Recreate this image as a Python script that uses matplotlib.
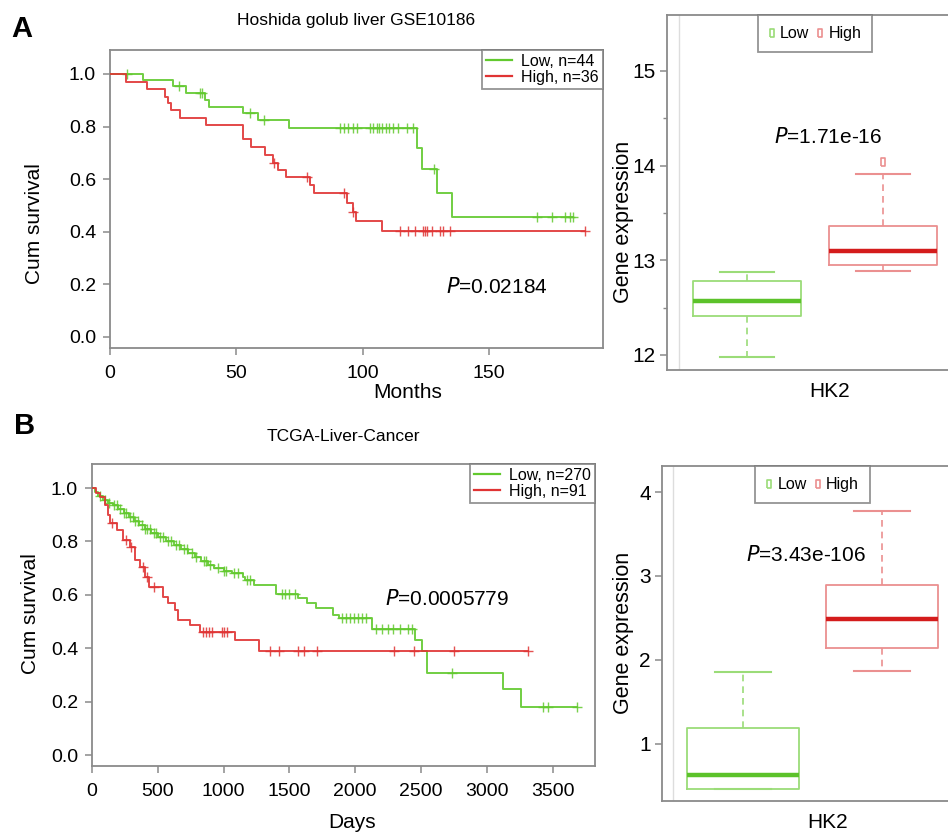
import numpy as np
import matplotlib
matplotlib.use('Agg')
import matplotlib.pyplot as plt
from matplotlib.lines import Line2D

plt.rcParams['font.family'] = ['Liberation Sans', 'DejaVu Sans']

# ── Panel A: Hoshida golub liver GSE10186 (months) ───────────────────────────
A_LOW_T    = [0, 13, 25, 30, 37.6, 39, 52.6, 58.6, 70.8, 121.5, 123.5, 129.3, 135.3, 183]
A_LOW_S    = [1.0, 0.976, 0.954, 0.929, 0.90, 0.876, 0.853, 0.825, 0.796, 0.72, 0.638, 0.547, 0.456, 0.456]
A_LOW_CENS = [6.7, 27.3, 35.6, 36.5, 55.4, 60.9, 91, 92.6, 94.2, 96.2, 97.7, 102.9, 104, 105.7,
              106.4, 107.6, 109.2, 110.4, 112, 114, 117.5, 120, 128, 169, 175, 180, 182, 183]
A_HIGH_T   = [0, 6.3, 14.6, 21.8, 23, 24, 27.7, 38, 52.6, 55.8, 61.3, 64.6, 66.4, 69.6, 79,
              80.7, 93.8, 96, 97.3, 107.6, 188]
A_HIGH_S   = [1.0, 0.971, 0.943, 0.914, 0.89, 0.861, 0.833, 0.804, 0.753, 0.722, 0.692, 0.663,
              0.635, 0.610, 0.578, 0.547, 0.509, 0.476, 0.441, 0.404, 0.404]
A_HIGH_CENS = [65, 78, 92.6, 96.2, 114.8, 118, 120.7, 124, 124.7, 125.5, 127.4, 130.6, 131.8,
               134.5, 188]
A_TITLE = 'Hoshida golub liver GSE10186'
A_LEG   = ['Low, n=44', 'High, n=36']
A_P     = '0.02184'

# ── Panel B: TCGA-Liver-Cancer (days) ────────────────────────────────────────
B_LOW_T = [0, 20, 45, 80, 120, 160, 200, 240, 280, 320, 360, 400, 450, 500, 560, 620, 680, 730,
           780, 830, 880, 930, 1000, 1060, 1150, 1165, 1230, 1400, 1565, 1630, 1705, 1830, 1880,
           2125, 2455, 2510, 2545, 3120, 3257, 3688]
B_LOW_S = [1.0, 0.985, 0.97, 0.955, 0.945, 0.935, 0.92, 0.905, 0.89, 0.875, 0.86, 0.845, 0.83,
           0.815, 0.80, 0.785, 0.77, 0.755, 0.74, 0.725, 0.71, 0.70, 0.69, 0.68, 0.665, 0.655,
           0.635, 0.605, 0.59, 0.57, 0.55, 0.525, 0.513, 0.472, 0.43, 0.39, 0.307, 0.247, 0.181,
           0.181]
B_LOW_CENS = [60, 100, 130, 170, 190, 210, 240, 260, 290, 310, 330, 350, 380, 400, 420, 440, 470,
              490, 520, 540, 580, 600, 640, 660, 700, 720, 760, 790, 850, 870, 900, 960, 1000,
              1020, 1080, 1110, 1180, 1200, 1440, 1470, 1500, 1540, 1900, 1930, 1960, 1990, 2020,
              2050, 2080, 2160, 2200, 2250, 2290, 2340, 2400, 2430, 2733, 3427, 3465, 3688]
B_HIGH_T = [0, 30, 60, 99, 120, 137, 187, 238, 289, 327, 365, 403, 436, 542, 580, 631, 656, 745,
            821, 1087, 1271, 3315]
B_HIGH_S = [1.0, 0.98, 0.967, 0.935, 0.90, 0.868, 0.843, 0.805, 0.78, 0.73, 0.705, 0.668, 0.63,
            0.593, 0.568, 0.543, 0.506, 0.487, 0.462, 0.431, 0.39, 0.39]
B_HIGH_CENS = [150, 260, 300, 390, 420, 470, 846, 866, 891, 910, 986, 1003, 1024, 1353, 1424,
               1568, 1611, 1712, 2297, 2449, 2751, 3315]
B_TITLE = 'TCGA-Liver-Cancer'
B_LEG   = ['Low, n=270', 'High, n=91']
B_P     = '0.0005779'

# ── Box plots of HK2 expression: (whislo, q1, med, q3, whishi) ───────────────
A_BOX_LOW  = [11.98, 12.41, 12.57, 12.78, 12.88]
A_BOX_HIGH = [12.89, 12.95, 13.10, 13.36, 13.91]
A_BOX_HIGH_OUT = [14.04]
A_BOX_P = '1.71e-16'
B_BOX_LOW  = [0.46, 0.46, 0.63, 1.19, 1.86]
B_BOX_HIGH = [1.87, 2.14, 2.49, 2.89, 3.77]
B_BOX_P = '3.43e-106'

# ── Style ─────────────────────────────────────────────────────────────────────
GREEN   = '#62c92e'
RED     = '#e03434'
GREEN_L = '#9bdc78'
RED_L   = '#eb9090'
GREEN_M = '#5cc22a'
RED_M   = '#d41c1c'
AXIS_C  = '#8a8a8a'
W, H = 948, 834

fig = plt.figure(figsize=(W / 100, H / 100), dpi=100, facecolor='white')


def px_axes(left, top, right, bottom):
    return fig.add_axes([left / W, 1 - bottom / H, (right - left) / W, (bottom - top) / H])


def style(ax):
    for s in ax.spines.values():
        s.set_color(AXIS_C)
        s.set_linewidth(1.3)
    ax.tick_params(colors=AXIS_C, labelcolor='black', labelsize=14, length=5, width=1.1)


def km(ax, t, s, cens, color):
    t = np.asarray(t, float)
    s = np.asarray(s, float)
    ax.step(t, s, where='post', color=color, lw=1.4, alpha=0.9, zorder=3)
    c = np.asarray(cens, float)
    idx = np.searchsorted(t, c, side='right') - 1
    ax.plot(c, s[idx], ls='none', marker='+', ms=7, mew=1.0, color=color, alpha=0.85, zorder=3)


def km_panel(ax, low, high, xlim, xticks, ylim, leg, ptxt, pxy):
    style(ax)
    km(ax, *low, GREEN)
    km(ax, *high, RED)
    ax.set_xlim(*xlim)
    ax.set_ylim(*ylim)
    ax.set_xticks(xticks)
    ax.set_yticks([0, 0.2, 0.4, 0.6, 0.8, 1.0])
    ax.set_yticklabels(['0.0', '0.2', '0.4', '0.6', '0.8', '1.0'])
    ax.tick_params(axis='x', pad=7)
    ax.tick_params(axis='y', pad=5)
    handles = [Line2D([], [], color=GREEN, lw=1.6), Line2D([], [], color=RED, lw=1.6)]
    lg = ax.legend(handles, leg, loc='upper right', fontsize=11.5, frameon=True, fancybox=False,
                   borderaxespad=0, handlelength=1.6, handletextpad=0.6, borderpad=0.25,
                   labelspacing=0.05)
    lg.get_frame().set_edgecolor('#7a7a7a')
    lg.get_frame().set_linewidth(1.3)
    fig.text(pxy[0] / W, 1 - pxy[1] / H, f'$\\mathit{{P}}$={ptxt}', ha='center', va='center',
             fontsize=15)


# rectangle-ish marker like R's small open box
BOXMK = [(-0.45, -1), (0.45, -1), (0.45, 1), (-0.45, 1), (-0.45, -1)]


def box_panel(ax, box_px, low, high, xlim, ylim, yticks, minor, outs, ptxt, pxy, ylab_px):
    style(ax)
    ax.axvline(0.5, color='#dddddd', lw=1.0, zorder=0)
    stats = []
    for v, fl in ((low, []), (high, outs)):
        stats.append(dict(whislo=v[0], q1=v[1], med=v[2], q3=v[3], whishi=v[4], fliers=fl))
    for i, (st, ec, mc) in enumerate(((stats[0], GREEN_L, GREEN_M), (stats[1], RED_L, RED_M))):
        ax.bxp([st], positions=[i + 1], widths=0.8, capwidths=0.4, showfliers=True,
               boxprops=dict(color=ec, lw=1.3),
               whiskerprops=dict(color=ec, lw=1.2, ls=(0, (4, 3))),
               capprops=dict(color=ec, lw=1.5),
               medianprops=dict(color=mc, lw=3.2),
               flierprops=dict(marker=BOXMK, ms=6, mfc='none', mec=ec, mew=1.2))
    ax.set_xlim(*xlim)
    ax.set_ylim(*ylim)
    ax.set_xticks([])
    ax.set_yticks(yticks)
    ax.set_yticks(minor, minor=True)
    ax.tick_params(axis='y', which='minor', length=3, width=1.0, colors=AXIS_C)
    ax.tick_params(axis='y', labelsize=15, pad=3)
    handles = [Line2D([], [], ls='none', marker=BOXMK, ms=6, mfc='none', mec=GREEN_L, mew=1.2),
               Line2D([], [], ls='none', marker=BOXMK, ms=6, mfc='none', mec=RED_L, mew=1.2)]
    lg = ax.legend(handles, ['Low', 'High'], loc='upper center', bbox_to_anchor=(0.5, 1.0),
                   ncol=2, fontsize=11.5, frameon=True, fancybox=False, borderaxespad=0,
                   handlelength=0.4, handletextpad=0.3, columnspacing=0.5, borderpad=0.7)
    lg.get_frame().set_edgecolor('#7a7a7a')
    lg.get_frame().set_linewidth(1.3)
    left, top, right, bottom = box_px
    ax.set_ylabel('Gene expression', fontsize=15.5, va='center')
    ax.yaxis.set_label_coords((ylab_px[0] - left) / (right - left),
                              (bottom - ylab_px[1]) / (bottom - top))
    ax.set_xlabel('HK2', fontsize=15)
    ax.xaxis.set_label_coords(0.55, -0.035)
    ax.xaxis.label.set_va('top')
    fig.text(pxy[0] / W, 1 - pxy[1] / H, f'$\\mathit{{P}}$={ptxt}', ha='center', va='center',
             fontsize=15)


# ── Panel A ───────────────────────────────────────────────────────────────────
axA = px_axes(110, 50, 603, 348)
km_panel(axA, (A_LOW_T, A_LOW_S, A_LOW_CENS), (A_HIGH_T, A_HIGH_S, A_HIGH_CENS),
         (0, 195), [0, 50, 100, 150], (-0.042, 1.091), A_LEG, A_P, (497, 287))
fig.text(356 / W, 1 - 20 / H, A_TITLE, ha='center', va='center', fontsize=12.5)
fig.text(408 / W, 1 - 393 / H, 'Months', ha='center', va='center', fontsize=15)
fig.text(35 / W, 1 - 224 / H, 'Cum survival', ha='center', va='center', rotation=90, fontsize=15)
fig.text(22 / W, 1 - 29 / H, 'A', ha='center', va='center', fontsize=21, fontweight='bold')

A_BOX_PX = (667, 15, 963, 370)
axAb = px_axes(*A_BOX_PX)
box_panel(axAb, A_BOX_PX, A_BOX_LOW, A_BOX_HIGH, (0.41, 2.59), (11.84, 15.59), [12, 13, 14, 15],
          [12.5, 13.5, 14.5], A_BOX_HIGH_OUT, A_BOX_P, (828, 137), (624, 222))

# ── Panel B ───────────────────────────────────────────────────────────────────
axB = px_axes(92, 464, 595, 766)
km_panel(axB, (B_LOW_T, B_LOW_S, B_LOW_CENS), (B_HIGH_T, B_HIGH_S, B_HIGH_CENS),
         (0, 3822), [0, 500, 1000, 1500, 2000, 2500, 3000, 3500], (-0.041, 1.09), B_LEG, B_P,
         (447, 599))
fig.text(343 / W, 1 - 437 / H, B_TITLE, ha='center', va='center', fontsize=12.5)
fig.text(352 / W, 1 - 822 / H, 'Days', ha='center', va='center', fontsize=15)
fig.text(30 / W, 1 - 614 / H, 'Cum survival', ha='center', va='center', rotation=90, fontsize=15)
fig.text(25 / W, 1 - 426 / H, 'B', ha='center', va='center', fontsize=21, fontweight='bold')

B_BOX_PX = (662, 466, 963, 801)
axBb = px_axes(*B_BOX_PX)
box_panel(axBb, B_BOX_PX, B_BOX_LOW, B_BOX_HIGH, (0.42, 2.58), (0.32, 4.31), [1, 2, 3, 4],
          [], [], B_BOX_P, (806, 555), (624, 633))

fig.savefig('out.png', dpi=100, facecolor='white')
